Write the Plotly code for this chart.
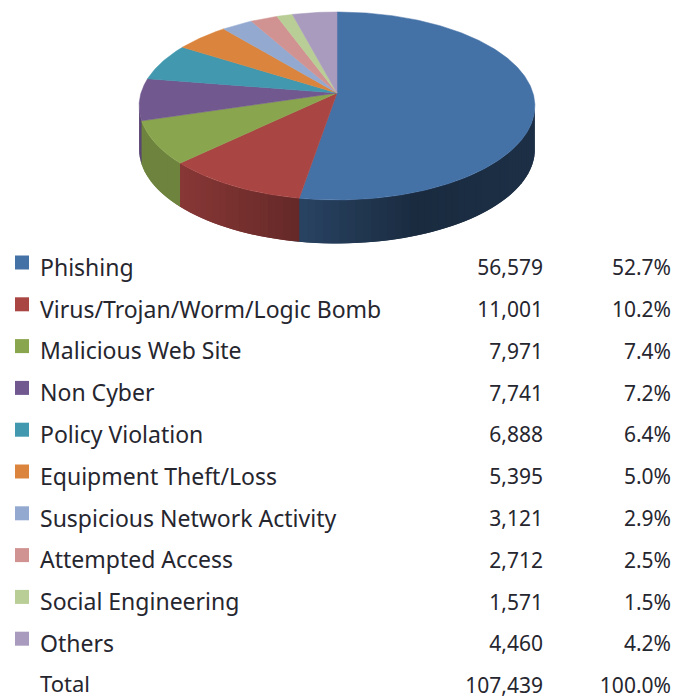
import numpy as np
import plotly.graph_objects as go

categories = ["Phishing", "Virus/Trojan/Worm/Logic Bomb", "Malicious Web Site", "Non Cyber",
              "Policy Violation", "Equipment Theft/Loss", "Suspicious Network Activity",
              "Attempted Access", "Social Engineering", "Others"]
counts = [56579, 11001, 7971, 7741, 6888, 5395, 3121, 2712, 1571, 4460]
percents = ["52.7%", "10.2%", "7.4%", "7.2%", "6.4%", "5.0%", "2.9%", "2.5%", "1.5%", "4.2%"]
total_label = "Total"
total_count = 107439
total_percent = "100.0%"
colors = ["#4471A6", "#A94543", "#89A54E", "#71588F", "#4198AF",
          "#DB843D", "#93A9CF", "#D19392", "#B9CD96", "#A99BBD"]

# projection of the tilted disc onto the page
CX, CY, A, B, K, DEPTH = 337.0, 93.0, 196.0, 92.2, 0.138, 43.5
TEXT = "#26262f"
FONT = "Noto Sans"


def project(theta):
    X, Y = np.sin(theta), -np.cos(theta)
    w = 1 - K * Y
    return CX + A * X / w, CY + B * Y / w


def shade(hex_color, f):
    r, g, b = int(hex_color[1:3], 16), int(hex_color[3:5], 16), int(hex_color[5:7], 16)
    return f"rgb({r*f:.0f},{g*f:.0f},{b*f:.0f})"


def side_factor(x):
    return float(np.interp(x, [139, 183, 300, 420, 535], [0.80, 0.80, 0.60, 0.38, 0.42]))


fig = go.Figure()
fractions = np.array(counts, dtype=float) / sum(counts)
edges = np.concatenate([[0], np.cumsum(fractions)]) * 2 * np.pi
vis_a, vis_b = np.arccos(-K), 2 * np.pi - np.arccos(-K)

# side wall: strips overlap the following one, so no seams show
for i, color in enumerate(colors):
    a, b = max(edges[i], vis_a), min(edges[i + 1], vis_b)
    if b <= a:
        continue
    n = max(2, int((b - a) / 0.035))
    ts = np.linspace(a, b, n + 1)
    dt = ts[1] - ts[0]
    for t0, t1 in zip(ts[:-1], ts[1:]):
        tt = np.linspace(t0, min(t1 + dt, vis_b), 5)
        x, y = project(tt)
        fig.add_trace(go.Scatter(
            x=np.concatenate([x, x[::-1]]), y=np.concatenate([y, y[::-1] + DEPTH]),
            mode="lines", fill="toself",
            fillcolor=shade(color, side_factor(float(project(t0)[0]))),
            line=dict(width=0),
            hoverinfo="skip", showlegend=False))

# top face
for i, color in enumerate(colors):
    tt = np.linspace(edges[i], edges[i + 1], max(3, int((edges[i + 1] - edges[i]) / 0.01)))
    x, y = project(tt)
    fig.add_trace(go.Scatter(
        x=np.concatenate([[CX], x, [CX]]), y=np.concatenate([[CY], y, [CY]]),
        mode="lines", fill="toself", fillcolor=color, line=dict(color=color, width=0.5),
        name=categories[i], hoverinfo="name", showlegend=False))

# table rows
ROW0, STEP = 270.0, 41.8
rows = ROW0 + STEP * np.arange(len(categories) + 1)
count_text = [f"{c:,}" for c in counts] + [f"{total_count:,}"]
pct_text = percents + [total_percent]
label_text = categories + [total_label]
label_rows = rows.copy()
label_rows[-1] -= 1.5
label_sizes = [23] * len(categories) + [22]

fig.add_trace(go.Scatter(
    x=[22] * len(categories), y=rows[:-1] - 7.5, mode="markers",
    marker=dict(symbol="square", size=14, color=colors, line=dict(width=0)),
    hoverinfo="skip", showlegend=False))
label_font = dict(family=FONT, size=label_sizes, color=TEXT)
num_font = dict(family=FONT, size=21, color=TEXT)
fig.add_trace(go.Scatter(x=[40] * len(rows), y=label_rows, text=label_text, mode="text", cliponaxis=False,
                         textposition="middle right", textfont=label_font, hoverinfo="skip", showlegend=False))
fig.add_trace(go.Scatter(x=[543] * len(rows), y=rows, text=count_text, mode="text", cliponaxis=False,
                         textposition="middle left", textfont=num_font, hoverinfo="skip", showlegend=False))
fig.add_trace(go.Scatter(x=[671] * len(rows), y=rows, text=pct_text, mode="text", cliponaxis=False,
                         textposition="middle left", textfont=num_font, hoverinfo="skip", showlegend=False))

fig.update_layout(
    width=675, height=698, margin=dict(l=0, r=0, t=0, b=0),
    paper_bgcolor="white", plot_bgcolor="white", showlegend=False,
    xaxis=dict(range=[0, 675], visible=False, fixedrange=True),
    yaxis=dict(range=[698, 0], visible=False, fixedrange=True),
)
fig.write_html("out.html", config={"displayModeBar": False},
               post_script="document.body.style.margin='0';document.documentElement.style.overflow='hidden';")
